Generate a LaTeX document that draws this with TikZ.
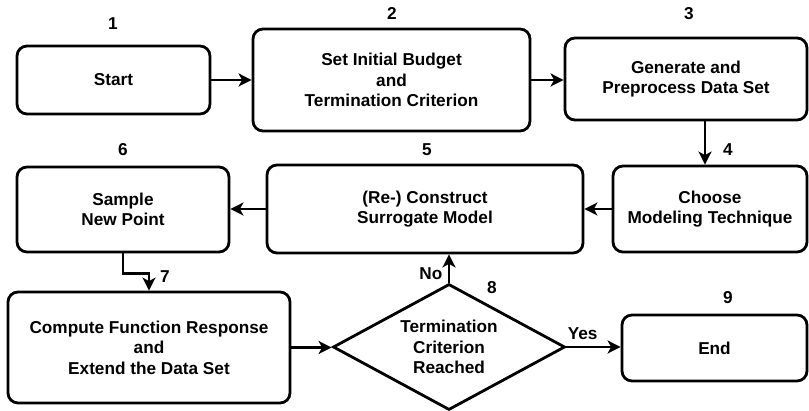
\documentclass[tikz,border=0pt]{standalone}
\usepackage{fontspec}
\setmainfont{Liberation Sans}
\usepackage{tikz}
\usetikzlibrary{positioning, arrows.meta, shapes.geometric}

\begin{document}
\begin{tikzpicture}[x=1pt, y=-1pt,
    every node/.style={font=\fontsize{17.2}{20.5}\selectfont\bfseries},
    procbox/.style={draw, line width=2.8pt, rounded corners=10pt, align=center, inner sep=0pt},
    decbox/.style={draw, diamond, line width=2.8pt, align=center, inner sep=0pt,
        aspect=1.84, minimum width=232pt, minimum height=126pt},
    flow/.style={line width=2.8pt, -{Stealth[length=13pt, width=13pt, inset=3.5pt]}}]
    \useasboundingbox (0,0) rectangle (809,411);

    % Steps
    \node[procbox, minimum width=193pt, minimum height=68pt] (start) at (113.5,80) {Start};
    \node[procbox, minimum width=277pt, minimum height=102pt] (budget) at (391.5,80)
        {Set Initial Budget\\and\\Termination Criterion};
    \node[procbox, minimum width=242pt, minimum height=82pt] (data) at (686,79)
        {Generate and\\Preprocess Data Set};
    \node[procbox, minimum width=194pt, minimum height=86pt] (choose) at (710,209)
        {Choose\\Modeling Technique};
    \node[procbox, minimum width=316pt, minimum height=88pt] (surr) at (425,209)
        {(Re-) Construct\\Surrogate Model};
    \node[procbox, minimum width=212pt, minimum height=85pt] (sample) at (123,209.5)
        {Sample\\New Point};
    \node[procbox, minimum width=282pt, minimum height=111pt] (compute) at (149,347.5)
        {Compute Function Response\\and\\Extend the Data Set};
    \node[decbox] (check) at (449,347) {Termination\\Criterion\\Reached};
    \node[procbox, minimum width=185pt, minimum height=66pt] (finish) at (714.5,348) {End};

    % Step numbers
    \node (n1) at (113,24) {1};
    \node (n2) at (392,14) {2};
    \node (n3) at (689,14) {3};
    \node (n4) at (728,150) {4};
    \node (n5) at (427,150) {5};
    \node (n6) at (123,150) {6};
    \node (n7) at (165,277) {7};
    \node (n8) at (492,288) {8};
    \node (n9) at (728,298) {9};

    % Flow
    \draw[flow] (start.east) -- (start.east -| budget.west);
    \draw[flow] (budget.east) -- (budget.east -| data.west);
    \draw[flow] (data.south -| 705,0) -- (choose.north -| 705,0);
    \draw[flow] (choose.west) -- (choose.west -| surr.east);
    \draw[flow] (surr.west) -- (surr.west -| sample.east);
    \draw[flow] (sample.south) -- ++(0,20) -| (compute.north);
    \draw[flow] (compute.east) -- (compute.east -| check.west);
    \draw[flow] (check.north) -- (check.north |- surr.south) node[pos=0.3, left=2pt] (no) {No};
    \draw[flow] (check.east) -- (check.east -| finish.west) node[pos=0.3, above=3pt] (yes) {Yes};

\end{tikzpicture}
\end{document}
